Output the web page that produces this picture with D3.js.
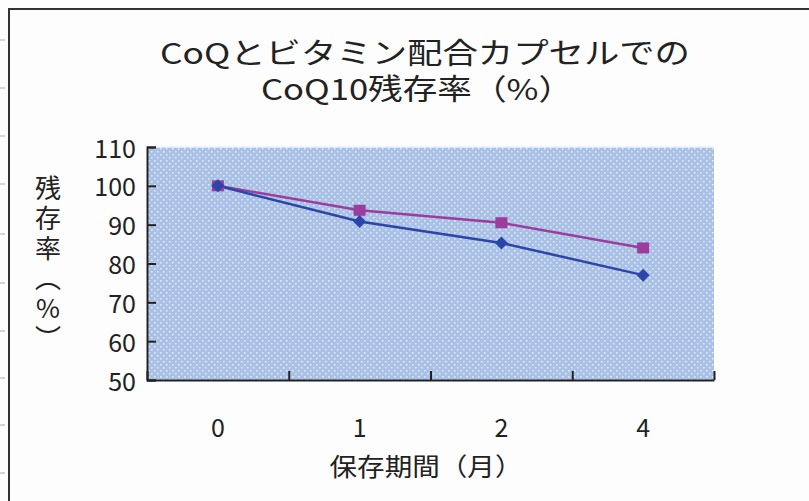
<!DOCTYPE html>
<html><head><meta charset="utf-8">
<script src="https://cdn.jsdelivr.net/npm/d3@7"></script>
<style>
html,body{margin:0;padding:0;background:#fdfdfd;}
svg{display:block;}
text{font-family:"Noto Sans CJK JP","Noto Sans",sans-serif;fill:#222;}
</style></head>
<body>
<script>
const categories = ["0", "1", "2", "4"];
const seriesBlue = [100, 90.8, 85.3, 77.0];
const seriesPink = [100, 93.7, 90.5, 84.0];
const yTicks = [50, 60, 70, 80, 90, 100, 110];
const titleLines = ["CoQとビタミン配合カプセルでの", "CoQ10残存率（%）"];
const yTitle = "残存率（%）";
const xTitle = "保存期間（月）";

const W = 809, H = 501;
const svg = d3.select("body").append("svg").attr("width", W).attr("height", H);

// frame
svg.append("path").attr("d", `M9,${H} V9 H${W}`).attr("fill","none").attr("stroke","#333").attr("stroke-width",2);
[40,88,136,184,234,283,331,378,425,473].forEach(yy=>{
  svg.append("line").attr("x1",0).attr("x2",5).attr("y1",yy).attr("y2",yy).attr("stroke","#aaa").attr("stroke-width",1);
});

const pLeft = 147, pRight = 714, pTop = 147, pBottom = 380;
const x = d3.scaleBand().domain(categories).range([pLeft, pRight]);
const y = d3.scaleLinear().domain([50, 110]).range([pBottom, pTop]);

// pattern
const defs = svg.append("defs");
const pat = defs.append("pattern").attr("id","dots").attr("patternUnits","userSpaceOnUse").attr("width",12).attr("height",12);
pat.append("rect").attr("width",12).attr("height",12).attr("fill","#a9c1e6");
[[1,1],[7,1],[4,4],[10,4],[1,7],[7,7],[4,10],[10,10]].forEach(([a,b])=>{
  pat.append("rect").attr("x",a).attr("y",b).attr("width",1.6).attr("height",1.6).attr("fill","#e2e8f1");
});
svg.append("rect").attr("x",pLeft).attr("y",pTop).attr("width",pRight-pLeft).attr("height",pBottom-pTop).attr("fill","url(#dots)");
svg.append("line").attr("x1",pLeft).attr("x2",pRight).attr("y1",pTop).attr("y2",pTop).attr("stroke","#eef2f8").attr("stroke-width",1.5);

// axes
const yAxis = svg.append("g").attr("transform",`translate(${pLeft},0)`)
  .call(d3.axisRight(y).tickValues(yTicks).tickSize(9).tickFormat(""));
yAxis.select(".domain").attr("stroke","#222").attr("stroke-width",2);
yAxis.selectAll(".tick line").attr("stroke","#222").attr("stroke-width",2);

const xTickPos = categories.map(c=>x(c)).concat([pRight]);
const xAxisG = svg.append("g").attr("transform",`translate(0,${pBottom})`)
  .call(d3.axisTop(d3.scaleLinear().domain([pLeft,pRight]).range([pLeft,pRight])).tickValues(xTickPos).tickSize(9).tickFormat("").tickSizeOuter(0));
xAxisG.select(".domain").attr("stroke","#222").attr("stroke-width",2);
xAxisG.selectAll(".tick line").attr("stroke","#222").attr("stroke-width",2);

// y labels
svg.selectAll(".ylab").data(yTicks).enter().append("text")
  .attr("x",136).attr("y",d=>y(d)).attr("dy","0.42em").attr("text-anchor","end")
  .attr("font-size",25).attr("font-family","'DejaVu Sans',sans-serif").text(d=>d);

// x labels
svg.selectAll(".xlab").data(categories).enter().append("text")
  .attr("x",d=>x(d)+x.bandwidth()/2).attr("y",428).attr("dy","0.36em").attr("text-anchor","middle")
  .attr("font-size",25).attr("font-family","'DejaVu Sans',sans-serif").text(d=>d);

// lines
const cx = (d,i)=>x(categories[i])+x.bandwidth()/2;
const line = d3.line().x(cx).y(d=>y(d));
svg.append("path").datum(seriesPink).attr("d",line).attr("fill","none").attr("stroke","#9c3d9d").attr("stroke-width",2.5);
svg.append("path").datum(seriesBlue).attr("d",line).attr("fill","none").attr("stroke","#2b45a8").attr("stroke-width",2.5);
svg.selectAll(".sq").data(seriesPink).enter().append("rect")
  .attr("x",(d,i)=>cx(d,i)-6).attr("y",d=>y(d)-5.5).attr("width",12).attr("height",11).attr("fill","#9c3d9d");
svg.selectAll(".dm").data(seriesBlue).enter().append("path")
  .attr("d",(d,i)=>{const X=cx(d,i),Y=y(d);return `M${X},${Y-6.5}L${X+6.5},${Y}L${X},${Y+6.5}L${X-6.5},${Y}Z`;})
  .attr("fill","#2b45a8");

// title
svg.append("text").attr("x",425).attr("y",54).attr("dy","0.36em").attr("text-anchor","middle")
  .attr("font-size",29).attr("textLength",530).attr("lengthAdjust","spacingAndGlyphs").text(titleLines[0]);
svg.append("text").attr("x",417).attr("y",90).attr("dy","0.36em").attr("text-anchor","middle")
  .attr("font-size",29).attr("textLength",312).attr("lengthAdjust","spacingAndGlyphs").text(titleLines[1]);

// y title (vertical writing)
svg.append("text").attr("x",48).attr("y",175)
  .style("writing-mode","vertical-rl").style("text-orientation","upright")
  .style("letter-spacing","4px").attr("font-size",26).text(yTitle);

// x title
svg.append("text").attr("x",426).attr("y",467).attr("dy","0.36em").attr("text-anchor","middle")
  .attr("font-size",25).attr("textLength",193).attr("lengthAdjust","spacingAndGlyphs").text(xTitle);
</script>
</body></html>
